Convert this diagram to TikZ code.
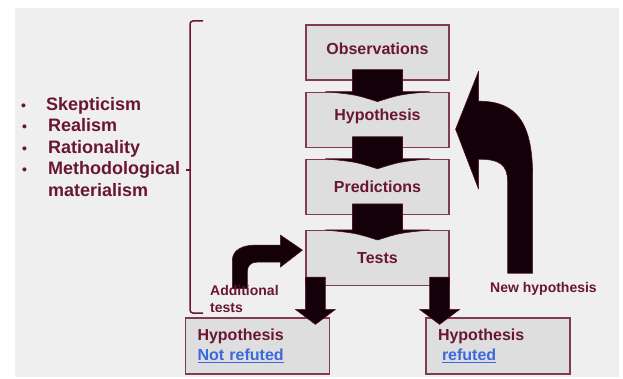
\documentclass[tikz,border=0pt]{standalone}
\usepackage{fontspec}
\setmainfont{Liberation Sans}
\usepackage{tikz}
\usetikzlibrary{positioning,calc}

\definecolor{maroon}{RGB}{105,22,52}
\definecolor{boxline}{RGB}{128,58,88}
\definecolor{boxfill}{RGB}{222,222,222}
\definecolor{bgcol}{RGB}{239,239,239}
\definecolor{linkblue}{RGB}{58,104,222}
\definecolor{arrowfill}{RGB}{20,0,8}
\definecolor{arrowedge}{RGB}{80,14,40}

\begin{document}
\begin{tikzpicture}[x=1pt, y=-1pt, node distance=11pt, font=\bfseries]
        \tikzstyle{stepbox}=[rectangle, draw=boxline, line width=1.2pt, fill=boxfill, minimum width=143pt, minimum height=55pt, inner sep=0pt, text=maroon, font=\fontsize{16}{19}\selectfont\bfseries]
        \tikzstyle{outcome}=[stepbox, minimum width=144pt, minimum height=56pt, align=left, text width=120pt, font=\fontsize{16}{20}\selectfont\bfseries]
        \tikzstyle{listitem}=[anchor=base west, inner sep=0pt, text=maroon, font=\fontsize{18}{21}\selectfont\bfseries]
        \tikzstyle{note}=[inner sep=0pt, text=maroon, align=left, font=\fontsize{14}{17}\selectfont\bfseries]
        \tikzstyle{fatarrow}=[fill=arrowfill, draw=arrowedge, line width=0.6pt, line join=round]
        \tikzstyle{bracket}=[draw=maroon, line width=1.5pt, rounded corners=3pt]
        \useasboundingbox (0,0) rectangle (623,379);
        \fill[bgcol] (15,8) rectangle (619,377);
        \draw[bracket] (203,21) -- (190,21) -- (190,313) -- (203,313);
        \draw[maroon, line width=1.5pt] (190,170) -- (186,170);
        \node[listitem] (skep) at (21,110.5) {\makebox[25pt][l]{\fontsize{14}{14}\selectfont\textbullet}Skepticism};
        \node[listitem] (real) at (22,131.5) {\makebox[26pt][l]{\fontsize{14}{14}\selectfont\textbullet}Realism};
        \node[listitem] (rat)  at (22,153.5) {\makebox[26pt][l]{\fontsize{14}{14}\selectfont\textbullet}Rationality};
        \node[listitem] (meth) at (22,174.5) {\makebox[26pt][l]{\fontsize{14}{14}\selectfont\textbullet}Methodological};
        \node[listitem] (mat)  at (48,196.5) {materialism};
        \node[stepbox, text depth=8pt] (obs) at (377.5,52.5) {Observations};
        \node[stepbox, text depth=9pt, below=of obs] (hyp) {Hypothesis};
        \node[stepbox, below=of hyp] (pred) {Predictions};
        \node[stepbox, below=15pt of pred] (tests) {Tests};
        \node[outcome] (kept) at (257.5,346) {Hypothesis\\\textcolor{linkblue}{\underline{Not refuted}}};
        \node[outcome] (dropped) at (498,346) {Hypothesis\\\hspace*{4pt}\textcolor{linkblue}{\underline{refuted}}};
        \foreach \a/\b in {obs/hyp, hyp/pred, pred/tests}
          \filldraw[fatarrow] ($(\a.south)+(-25,-11)$) -- ($(\a.south)+(25,-11)$) -- ($(\b.north)+(25,0)$) -- ($(\b.north)+(52,0)$) .. controls ($(\b.north)+(22,3)$) .. ($(\b.north)+(0,10)$) .. controls ($(\b.north)+(-22,3)$) .. ($(\b.north)+(-52,0)$) -- ($(\b.north)+(-25,0)$) -- cycle;
        \foreach \corner/\goal/\dx in {south west/kept/10, south east/dropped/-10}
          \filldraw[fatarrow] ($(tests.\corner)+(\dx-10,-9)$) -- ($(tests.\corner)+(\dx+10,-9)$) -- ($(tests.\corner |- \goal.north)+(\dx+10,-8)$) -- ($(tests.\corner |- \goal.north)+(\dx+20,-8)$) -- ($(tests.\corner |- \goal.north)+(\dx,7)$) -- ($(tests.\corner |- \goal.north)+(\dx-20,-8)$) -- ($(tests.\corner |- \goal.north)+(\dx-10,-8)$) -- cycle;
        \begin{scope}[shift={(hyp.east)}]
          \filldraw[fatarrow] (58,153.5) -- (83,153.5) -- (83,56.5) .. controls (83,1.5) and (66,-18.5) .. (29,-18.5) -- (29,-48.5) -- (6,9.5) -- (29,69.5) -- (29,39.5) .. controls (50,39.5) and (58,45) .. (58,62) -- cycle;
        \end{scope}
        \begin{scope}[shift={(tests.west)}]
          \filldraw[fatarrow] (-73,30.5) -- (-73,2) .. controls (-73,-8) and (-63,-13) .. (-50,-13) -- (-25,-13) -- (-25,-23) -- (-3,-8) -- (-25,9) -- (-25,4) -- (-48,4) .. controls (-55,4) and (-58,8) .. (-58,13) -- (-58,30.5) -- cycle;
        \end{scope}
        \node[note, anchor=north west] (addl) at (210,285) {Additional\\tests};
        \node[note, anchor=base west] (newhyp) at (490,292) {New hypothesis};
\end{tikzpicture}
\end{document}
